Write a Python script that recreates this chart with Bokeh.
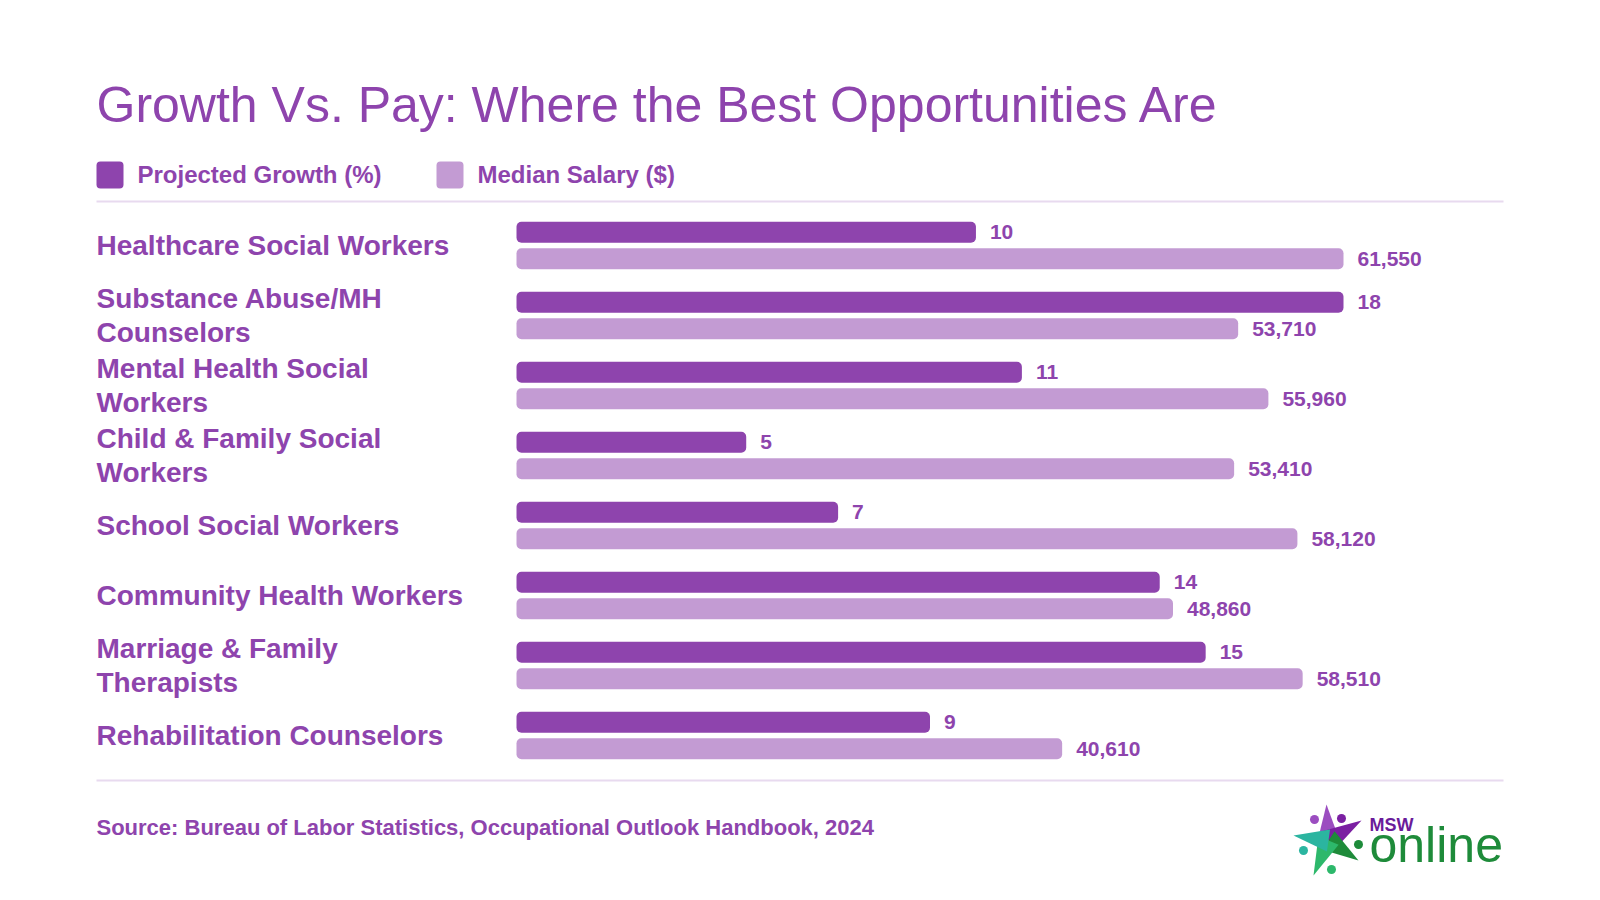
import textwrap
from bokeh.plotting import figure
from bokeh.models import Range1d, FactorRange, ColumnDataSource
from bokeh.layouts import column
from bokeh.transform import dodge
from bokeh.core.properties import value
from bokeh.embed import file_html
from bokeh.resources import INLINE

# ---------------- data ----------------
categories = [
    "Healthcare Social Workers",
    "Substance Abuse/MH Counselors",
    "Mental Health Social Workers",
    "Child & Family Social Workers",
    "School Social Workers",
    "Community Health Workers",
    "Marriage & Family Therapists",
    "Rehabilitation Counselors",
]
growth = [10, 18, 11, 5, 7, 14, 15, 9]
salary = [61550, 53710, 55960, 53410, 58120, 48860, 58510, 40610]
series_names = ["Projected Growth (%)", "Median Salary ($)"]
title_text = "Growth Vs. Pay: Where the Best Opportunities Are"
source_text = "Source: Bureau of Labor Statistics, Occupational Outlook Handbook, 2024"

# ---------------- style / layout ----------------
PURPLE = "#8E44AD"
LILAC = "#C39BD3"
RULE = "#E8DAEF"
FONT = "Liberation Sans"
W = 1600
HEAD_H, BODY_H, FOOT_H = 210, 560, 130
LEFT, RIGHT = 96, 1503
BAR_LEFT, BAR_MAX = 516, 827
OFF = 0.19
BAR_H = 0.30


def make_fig(h, xr, yr):
    f = figure(width=W, height=h, x_range=xr, y_range=yr, output_backend="svg",
               toolbar_location=None, x_axis_location=None, y_axis_location=None,
               min_border=0)
    f.grid.visible = False
    f.outline_line_color = None
    f.background_fill_color = "white"
    f.border_fill_color = "white"
    return f


# ---------------- header ----------------
hdr = make_fig(HEAD_H, Range1d(0, W), Range1d(HEAD_H, 0))
hdr.text(x=[LEFT], y=[104], text=[title_text], text_font=value(FONT),
         text_font_size="50px", text_color=PURPLE, text_baseline="middle",
         text_align="left")
sw_x = [96, 436]
SW = 27
hdr.quad(left=sw_x, right=[x + SW for x in sw_x], top=[161, 161], bottom=[188, 188],
         fill_color=[PURPLE, LILAC], line_color=None, border_radius=4)
hdr.text(x=[x + 41 for x in sw_x], y=[173.5, 173.5], text=series_names,
         text_font=value(FONT), text_font_style="bold", text_font_size="24px",
         text_color=PURPLE, text_baseline="middle", text_align="left")
hdr.segment(x0=[LEFT], y0=[201], x1=[RIGHT], y1=[201], line_color=RULE, line_width=2)

# ---------------- body ----------------
gmax = max(growth)
smax = max(salary)
body = make_fig(
    BODY_H,
    Range1d(-BAR_LEFT * gmax / BAR_MAX, (W - BAR_LEFT) * gmax / BAR_MAX),
    FactorRange(factors=list(reversed(categories)), range_padding=0),
)
body.extra_x_ranges = {
    "salary": Range1d(-BAR_LEFT * smax / BAR_MAX, (W - BAR_LEFT) * smax / BAR_MAX),
    "px": Range1d(0, W),
}

src = ColumnDataSource(dict(
    cat=categories,
    growth=growth,
    salary=salary,
    glab=[str(g) for g in growth],
    slab=[f"{s:,}" for s in salary],
    label=["\n".join(textwrap.wrap(c, 26)) for c in categories],
))

body.hbar(y=dodge("cat", OFF, range=body.y_range), left=0, right="growth",
          height=BAR_H, source=src, fill_color=PURPLE, line_color=None,
          border_radius=5)
body.hbar(y=dodge("cat", -OFF, range=body.y_range), left=0, right="salary",
          height=BAR_H, source=src, fill_color=LILAC, line_color=None,
          border_radius=5, x_range_name="salary")

lab_kw = dict(text_font=value(FONT), text_font_style="bold", text_font_size="21px",
              text_color=PURPLE, text_baseline="middle", text_align="left", x_offset=14)
body.text(x="growth", y=dodge("cat", OFF, range=body.y_range), text="glab",
          source=src, **lab_kw)
body.text(x="salary", y=dodge("cat", -OFF, range=body.y_range), text="slab",
          source=src, x_range_name="salary", **lab_kw)

body.text(x=LEFT, y="cat", text="label", source=src, x_range_name="px",
          text_font=value(FONT), text_font_style="bold", text_font_size="28px",
          text_color=PURPLE, text_baseline="middle", text_align="left",
          text_line_height=1.12)

# ---------------- footer ----------------
Y0 = HEAD_H + BODY_H
foot = make_fig(FOOT_H, Range1d(0, W), Range1d(Y0 + FOOT_H, Y0))
foot.segment(x0=[LEFT], y0=[780], x1=[RIGHT], y1=[780], line_color=RULE, line_width=2)
foot.text(x=[LEFT], y=[827], text=[source_text], text_font=value(FONT),
          text_font_style="bold", text_font_size="22px", text_color=PURPLE,
          text_baseline="middle", text_align="left")

# logo (decorative)
cx, cy = 1328, 840
arms = [((-2, -36), "#9B4DC0"), ((33, -20), "#7B1FA2"), ((30, 20), "#1E8B3A"),
        ((-15, 35), "#2DB86B"), ((-35, -5), "#2BB5A0")]
heads = [((-14, -21), "#9B4DC0"), ((13, -22), "#7B1FA2"), ((30, 4), "#1E8B3A"),
         ((3, 29), "#2DB86B"), ((-25, 10), "#2BB5A0")]
xs, ys, cols = [], [], []
for (dx, dy), c in arms:
    n = (dx * dx + dy * dy) ** 0.5
    px, py = -dy / n * 11, dx / n * 11
    xs.append([cx + px, cx + dx, cx - px])
    ys.append([cy + py, cy + dy, cy - py])
    cols.append(c)
foot.patches(xs, ys, fill_color=cols, line_color=None)
foot.scatter([cx + d[0] for d, _ in heads], [cy + d[1] for d, _ in heads],
             size=9, color=[c for _, c in heads], line_color=None)
foot.text(x=[1369], y=[824.5], text=["MSW"], text_font=value(FONT), text_font_style="bold",
          text_font_size="18px", text_color="#6A1B9A", text_baseline="middle")
foot.text(x=[1369], y=[844], text=["online"], text_font=value(FONT),
          text_font_size="50px", text_color="#1E8B3A", text_baseline="middle")

layout = column(hdr, body, foot, spacing=0)
open("out.html", "w").write(file_html(layout, INLINE))
